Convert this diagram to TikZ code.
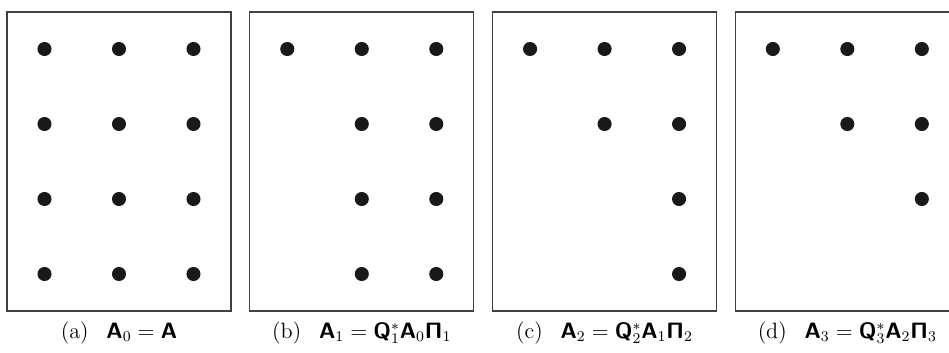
\documentclass[tikz,border=0pt]{standalone}
\usetikzlibrary{positioning}

\DeclareMathAlphabet{\mathsfbf}{OT1}{cmss}{bx}{n}
\newcommand{\matA}{\mathsfbf{A}}
\newcommand{\matQ}{\mathsfbf{Q}}
\newcommand{\matPi}{\mathsfbf{\Pi}}

\begin{document}
\begin{tikzpicture}[
    x=0.54pt, y=0.54pt,
    panel/.style={rectangle, draw=black!75, line width=0.6pt, inner sep=0pt,
        minimum width=120.96pt, minimum height=161.46pt},
    entry/.style={circle, fill=black!90, inner sep=0pt, minimum size=7.6pt},
    caption/.style={inner sep=0pt, font=\fontsize{12}{14}\selectfont}
]
\useasboundingbox (0,0) rectangle (949,352);
\clip (0,0) rectangle (949,352);

% Panels
\node[panel] (PA) at (119,190.5) {};
\node[panel] (PB) [right=9.54pt of PA] {};
\node[panel] (PC) [right=9.54pt of PB] {};
\node[panel] (PD) [right=9.54pt of PC] {};

% Captions
\node[caption] (CA) [below=5.2pt of PA] {(a)\hspace{0.8em}$\matA_0 = \matA$};
\node[caption] (CB) [below=5.2pt of PB] {(b)\hspace{0.8em}$\matA_1 = \matQ_1^*\matA_0\matPi_1$};
\node[caption] (CC) [below=5.2pt of PC] {(c)\hspace{0.8em}$\matA_2 = \matQ_2^*\matA_1\matPi_2$};
\node[caption] (CD) [below=5.2pt of PD] {(d)\hspace{0.8em}$\matA_3 = \matQ_3^*\matA_2\matPi_3$};

% Nonzero entries
\begin{scope}[shift={(PA.center)}]
  \foreach \r in {1,...,4}
    \foreach \c in {1,2,3}
      \node[entry] (a\r\c) at ({74.5*(\c-2)},{112.5-75*(\r-1)}) {};
\end{scope}
\begin{scope}[shift={(PB.center)}]
  \foreach \r/\c in {1/1,1/2,1/3,2/2,2/3,3/2,3/3,4/2,4/3}
    \node[entry] (b\r\c) at ({74.5*(\c-2)},{112.5-75*(\r-1)}) {};
\end{scope}
\begin{scope}[shift={(PC.center)}]
  \foreach \r/\c in {1/1,1/2,1/3,2/2,2/3,3/3,4/3}
    \node[entry] (c\r\c) at ({74.5*(\c-2)},{112.5-75*(\r-1)}) {};
\end{scope}
\begin{scope}[shift={(PD.center)}]
  \foreach \r/\c in {1/1,1/2,1/3,2/2,2/3,3/3}
    \node[entry] (d\r\c) at ({74.5*(\c-2)},{112.5-75*(\r-1)}) {};
\end{scope}

\end{tikzpicture}
\end{document}
